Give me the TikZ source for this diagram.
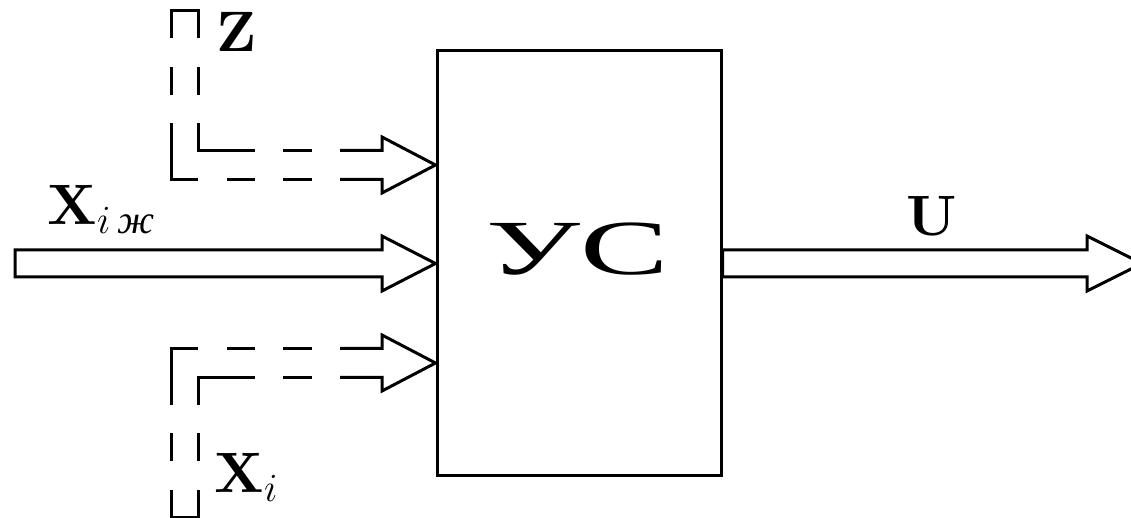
\RequirePackage{fix-cm}
\documentclass[tikz,border=0pt]{standalone}
\usepackage{amsmath}
\usepackage[no-math]{fontspec}
\setmainfont{Latin Modern Roman}
\newfontfamily\cyrfont{Liberation Serif}
\DeclareFontShape{OT1}{cmr}{bx}{n}{<->cmbx10}{}
\tikzset{
  lbl/.style={inner sep=0pt, font=\fontsize{28.5}{34}\selectfont},
  pipe/.style={line width=1.5pt}
}
\begin{document}
\begin{tikzpicture}[x=0.5pt,y=-0.5pt, line width=1.5pt]
\useasboundingbox (0,0) rectangle (1131,518);
% central block
\node[draw, inner sep=0pt, minimum width=142pt, minimum height=212.5pt] (box) at (579,263.5) {};
\node[inner sep=0pt] (ucs) at (577.5,249) {\scalebox{1.7}[1]{\fontsize{39}{44}\cyrfont УС}};
\coordinate (zt) at (box.west |- 0,165);
\coordinate (xt) at (box.west |- 0,363);
\coordinate (ut) at (1142,263.5);
% main input arrow
\draw[pipe] (15,250) -- (382,250) -- (382,236) -- (box.west) -- (382,291) -- (382,277) -- (15,277) -- cycle;
% output arrow
\draw[pipe] (box.east |- 0,250) -- (1087,250) -- (1087,236) -- (ut) -- (1087,291) -- (1087,277) -- (box.east |- 0,277) -- cycle;
% Z dashed pipe
\draw[pipe] (171,38) -- (171,11) -- (198,11) -- (198,38);
\draw[pipe] (171,67) -- (171,95) (198,67) -- (198,95);
\draw[pipe] (198,123) -- (198,150.5) -- (255,150.5);
\draw[pipe] (171,123) -- (171,179.5) -- (198,179.5);
\draw[pipe] (227,179.5) -- (255,179.5);
\draw[pipe] (283,150.5) -- (312,150.5) (283,179.5) -- (312,179.5);
\draw[pipe] (340,150.5) -- (382,150.5) -- (382,137) -- (zt) -- (382,193) -- (382,179.5) -- (340,179.5);
% Xi dashed pipe
\draw[pipe] (171,490) -- (171,517) -- (198,517) -- (198,490);
\draw[pipe] (171,461) -- (171,433) (198,461) -- (198,433);
\draw[pipe] (198,405) -- (198,377.5) -- (255,377.5);
\draw[pipe] (171,405) -- (171,348.5) -- (198,348.5);
\draw[pipe] (227,348.5) -- (255,348.5);
\draw[pipe] (283,377.5) -- (312,377.5) (283,348.5) -- (312,348.5);
\draw[pipe] (340,377.5) -- (382,377.5) -- (382,391) -- (xt) -- (382,335) -- (382,348.5) -- (340,348.5);
% labels
\node[lbl, anchor=base west] (zl) at (215,52) {$\mathbf{Z}$};
\node[lbl, anchor=base west] (xil) at (213,493) {$\mathbf{X}_i$};
\node[lbl, anchor=base west] (xizl) at (46,225) {$\mathbf{X}_{i\,\text{\cyrfont\itshape ж}}$};
\node[lbl, anchor=base] (ul) at (931.5,236) {$\mathbf{U}$};
\end{tikzpicture}
\end{document}
